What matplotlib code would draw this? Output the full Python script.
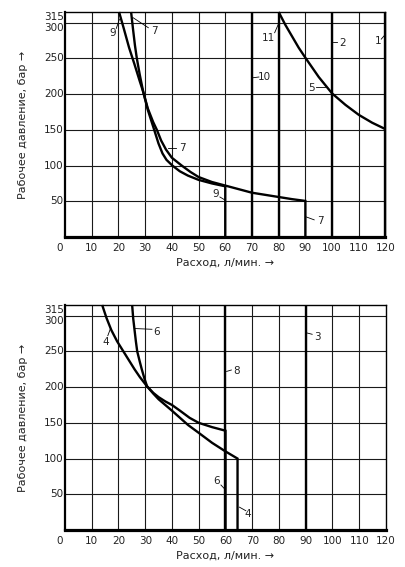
import matplotlib
matplotlib.use("Agg")
import matplotlib.pyplot as plt
from matplotlib.transforms import ScaledTranslation

# ---------------- data ----------------
x_ticks = [0, 10, 20, 30, 40, 50, 60, 70, 80, 90, 100, 110, 120]
y_ticks = [50, 100, 150, 200, 250, 300, 315]
x_label = "Расход, л/мин. →"
y_label = "Рабочее давление, бар →"

# upper chart
c1_q = [120, 120]
c1_p = [0, 315]
c2_q = [100, 100]
c2_p = [0, 315]
c10_q = [70, 70]
c10_p = [0, 315]
c11_q = [80, 80]
c11_p = [0, 315]
c5_q = [80, 82.5, 85, 87.5, 90, 95, 100, 105, 110, 115, 120]
c5_p = [315, 297, 281, 265, 251, 224, 201, 185, 171, 160, 151]
c9_q = [20.25, 22, 24, 26, 28, 29.3, 31, 33.4, 35, 36.5, 38, 40.2, 43, 46, 50, 55, 60, 60]
c9_p = [315, 292, 265, 242, 218, 203, 178, 150, 131, 117, 108, 100, 92, 86, 80, 75, 71, 0]
c7_q = [24.75, 25.5, 26.2, 26.9, 28, 29.3, 31, 33, 34.4, 36, 37.8, 40, 43.7, 47, 50,
        55, 60, 65, 70, 75, 80, 85, 90, 90]
c7_p = [315, 290, 268, 250, 227, 203, 180, 161, 150, 135, 122.5, 111, 100, 91, 84,
        77, 72, 67, 62, 59, 56, 53, 50.5, 0]

# lower chart
c3_q = [90, 90]
c3_p = [0, 315]
c8_q = [60, 60]
c8_p = [0, 315]
c4_q = [13.9, 15.5, 17.3, 19.5, 22, 24, 26, 28, 30.7, 33, 35, 37.5, 40, 43, 46,
        50, 55, 60, 64.5, 64.5]
c4_p = [315, 297, 280, 264, 249, 237, 225, 214, 201, 191, 183, 175, 167, 157, 147,
        136, 122, 110, 100, 0]
c6_q = [25.1, 25.5, 26, 26.5, 27, 28, 28.7, 29.7, 30.7, 33, 35, 37.5, 40, 43, 46.6,
        50, 55, 60, 60]
c6_p = [315, 296, 280, 264, 250, 235, 225, 212, 201, 192, 186, 180, 175, 167, 157,
        150, 144, 139, 0]

# curve number labels: (text, text_q, text_p, line_from_q, line_from_p, line_to_q, line_to_p)
top_labels = [
    ("9", 17.8, 285, 19.2, 292, 20.4, 305),
    ("7", 33.3, 288, 31.2, 293, 25.5, 307),
    ("11", 76.2, 278, 78.5, 286, 80.0, 299),
    ("2", 104.0, 272, 101.9, 273, 100.4, 273),
    ("1", 117.2, 274, 118.4, 277, 119.8, 283),
    ("10", 74.5, 224, 72.6, 224, 70.5, 223),
    ("5", 92.4, 208, 94.0, 210, 97.3, 210),
    ("7", 43.8, 124, 41.7, 124, 38.5, 124),
    ("9", 56.5, 60, 58.0, 56, 59.8, 52),
    ("7", 95.5, 22, 93.3, 24, 90.4, 28),
]
bottom_labels = [
    ("4", 15.2, 263, 16.0, 272, 17.0, 282),
    ("6", 34.4, 277, 32.5, 281, 26.3, 282),
    ("3", 94.5, 270, 92.4, 274, 90.3, 276),
    ("8", 64.2, 223, 62.2, 224, 60.4, 222),
    ("6", 56.8, 68, 58.3, 63, 59.8, 57),
    ("4", 68.3, 23, 67.6, 27, 65.2, 32),
]

top_curves = [(c1_q, c1_p), (c2_q, c2_p), (c10_q, c10_p), (c11_q, c11_p),
              (c5_q, c5_p), (c9_q, c9_p), (c7_q, c7_p)]
bottom_curves = [(c3_q, c3_p), (c8_q, c8_p), (c4_q, c4_p), (c6_q, c6_p)]

# ---------------- drawing ----------------
plt.rcParams['font.family'] = ['DejaVu Sans']
fig = plt.figure(figsize=(4.06, 5.67), dpi=100)
fig.patch.set_facecolor("white")

W, H = 406, 567
def axes_rect(l, t, r, b):
    return [l / W, 1 - b / H, (r - l) / W, (b - t) / H]

ax_top = fig.add_axes(axes_rect(65, 12, 385.5, 237))
ax_bot = fig.add_axes(axes_rect(65, 305, 386, 530))

def style(ax, curves, labels):
    ax.set_xlim(0, 120)
    ax.set_ylim(0, 315)
    for x in x_ticks[1:-1]:
        ax.axvline(x, color="#1a1a1a", lw=0.8, zorder=1)
    for y in y_ticks[:-1]:
        ax.axhline(y, color="#1a1a1a", lw=0.8, zorder=1)
    for q, p in curves:
        ax.plot(q, p, color="black", lw=1.7, solid_joinstyle="miter",
                solid_capstyle="butt", zorder=3, clip_on=False)
    for txt, tq, tp, q0, p0, q1, p1 in labels:
        ax.plot([q0, q1], [p0, p1], color="black", lw=0.6, zorder=4)
        ax.text(tq, tp, txt, fontsize=7.5, ha="center", va="center",
                color="#222222", zorder=5)
    ax.set_xticks(x_ticks)
    ax.set_xticklabels([str(v) for v in x_ticks])
    ax.set_yticks(y_ticks)
    ax.set_yticklabels([str(v) for v in y_ticks])
    ax.tick_params(axis="both", length=0, labelsize=7.5, colors="#222222")
    ax.tick_params(axis="x", pad=4)
    ax.tick_params(axis="y", pad=1)
    for lab in ax.get_yticklabels():
        if lab.get_text() in ("315", "300"):
            lab.set_verticalalignment("top")
        else:
            lab.set_verticalalignment("center")
    first = ax.get_xticklabels()[0]
    first.set_transform(first.get_transform()
                        + ScaledTranslation(-5 / 100, 0, fig.dpi_scale_trans))
    ax.spines["left"].set_linewidth(1.6)
    ax.spines["bottom"].set_linewidth(2.3)
    ax.spines["top"].set_linewidth(1.0)
    ax.spines["right"].set_linewidth(1.0)
    for s in ax.spines.values():
        s.set_color("black")
        s.set_zorder(6)
    ax.set_xlabel(x_label, fontsize=8, labelpad=4, color="#222222")
    ax.set_ylabel(y_label, fontsize=8, labelpad=11, color="#222222")

style(ax_top, top_curves, top_labels)
style(ax_bot, bottom_curves, bottom_labels)

fig.savefig("out.png", dpi=100, facecolor="white")
